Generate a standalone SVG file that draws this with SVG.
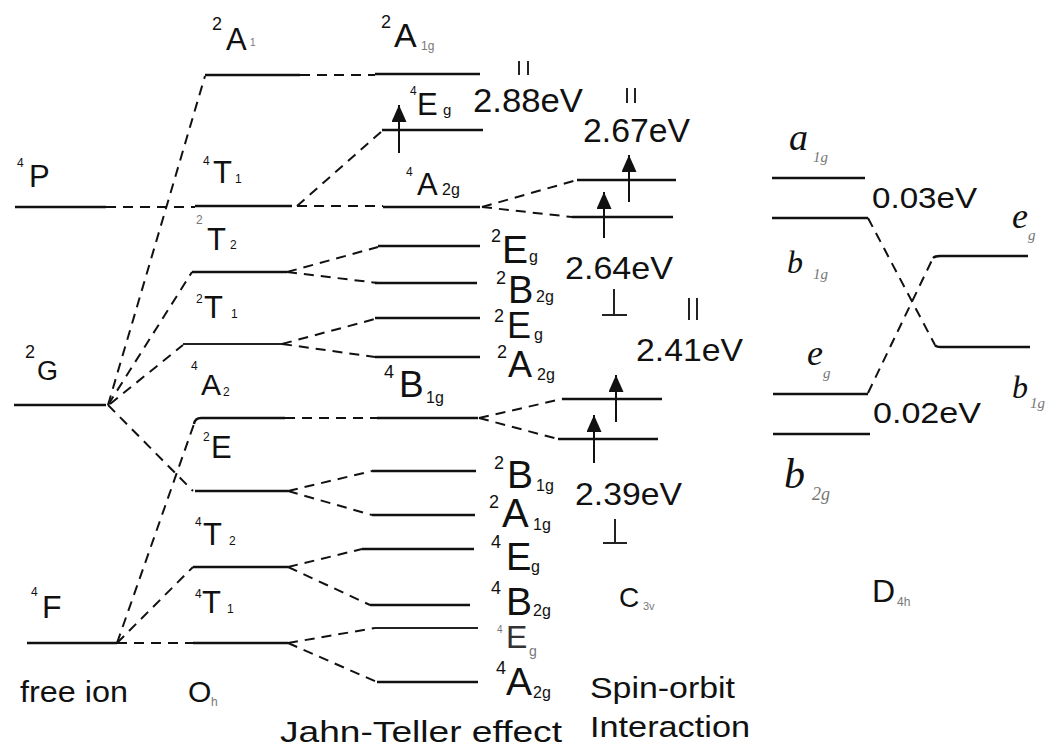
<svg xmlns="http://www.w3.org/2000/svg" width="1060" height="747" viewBox="0 0 1060 747">
<defs>
<style>
.lv{stroke:#111;stroke-width:2.4;fill:none}
.lt{stroke:#222;stroke-width:1.8;fill:none}
.dc{stroke:#111;stroke-width:2;fill:none;stroke-dasharray:10 7}
.ar{stroke:#111;stroke-width:2;fill:none}
.tk{stroke:#222;stroke-width:2;fill:none}
text{font-family:"Liberation Sans",Arial,sans-serif;fill:#111}
.sup{font-size:18px}
.ssm{font-size:12px}
.sub{font-size:16px}
.fa{fill:#777}
.it{font-family:"Liberation Serif","Times New Roman",serif;font-style:italic}
</style>
<marker id="ah" markerUnits="userSpaceOnUse" markerWidth="17" markerHeight="15" refX="17" refY="7.5" orient="auto">
<path d="M0,0 L17,7.5 L0,15 z" fill="#111"/>
</marker>
</defs>
<rect width="1060" height="747" fill="#fff"/>

<g id="connectors">
<path class="dc" d="M106 207 H195"/>
<path class="dc" d="M297 206 H383"/>
<path class="dc" d="M297 206 L382 131"/>
<path class="dc" d="M108 405 L205 76"/>
<path class="dc" d="M300 75 H375"/>
<path class="dc" d="M108 405 L192 272"/>
<path class="dc" d="M110 404 L183 345"/>
<path class="dc" d="M108 405 L193 491"/>
<path class="dc" d="M117 643 L194 424"/>
<path class="dc" d="M285 418 H377"/>
<path class="dc" d="M117 643 L193 567"/>
<path class="dc" d="M117 643 H193"/>
<path class="dc" d="M287 272 L378 247"/>
<path class="dc" d="M287 272 L378 283"/>
<path class="dc" d="M282 344 L375 319"/>
<path class="dc" d="M282 344 L375 357"/>
<path class="dc" d="M288 491 L372 471"/>
<path class="dc" d="M288 491 L372 515"/>
<path class="dc" d="M288 567 L362 549"/>
<path class="dc" d="M288 567 L370 605"/>
<path class="dc" d="M288 643 L375 628"/>
<path class="dc" d="M288 643 L377 682"/>
<path class="dc" d="M482 207 L577 180"/>
<path class="dc" d="M482 207 L572 217"/>
<path class="dc" d="M479 418 L562 399"/>
<path class="dc" d="M479 418 L558 439"/>
<path class="dc" d="M868 218 L935 345"/>
<path class="dc" d="M868 393 L933 258"/>
</g>

<g id="free-4P">
<line class="lv" x1="15" y1="207" x2="106" y2="207"/>
<text><tspan class="ssm" x="17" y="167">4</tspan><tspan x="29" y="187" font-size="31">P</tspan></text>
</g>
<g id="free-2G">
<line class="lv" x1="14" y1="405" x2="106" y2="405"/>
<text><tspan class="sup" x="25" y="358">2</tspan><tspan x="37" y="380" font-size="27">G</tspan></text>
</g>
<g id="free-4F">
<line class="lv" x1="27" y1="643" x2="117" y2="643"/>
<text><tspan class="ssm" x="31" y="596">4</tspan><tspan x="42" y="618" font-size="32">F</tspan></text>
</g>

<g id="oh-2A1">
<line class="lv" x1="205" y1="75" x2="300" y2="75"/>
<text><tspan class="sup" x="212" y="30">2</tspan><tspan x="226" y="50" font-size="31">A</tspan><tspan class="fa" x="250" y="46" font-size="10">1</tspan></text>
</g>
<g id="oh-4T1-P">
<line class="lv" x1="195" y1="206" x2="292" y2="206"/>
<text><tspan class="ssm" x="203" y="165">4</tspan><tspan x="213" y="183" font-size="31">T</tspan><tspan class="ssm" x="235" y="183">1</tspan></text>
</g>
<g id="oh-2T2">
<line class="lv" x1="192" y1="272" x2="287" y2="272"/>
<text><tspan class="ssm fa" x="196" y="224">2</tspan><tspan x="207" y="250" font-size="31">T</tspan><tspan class="ssm" x="230" y="249">2</tspan></text>
</g>
<g id="oh-2T1">
<line class="lt" x1="183" y1="344" x2="282" y2="344"/>
<text><tspan class="ssm" x="196" y="303">2</tspan><tspan x="204" y="318" font-size="31">T</tspan><tspan class="ssm" x="231" y="318">1</tspan></text>
</g>
<g id="oh-4A2">
<path class="lv" d="M194 424 Q195 418 201 418 H285"/>
<text><tspan class="ssm" x="191" y="370">4</tspan><tspan x="201" y="395" font-size="30">A</tspan><tspan class="ssm" x="223" y="396">2</tspan></text>
</g>
<g id="oh-2E">
<line class="lv" x1="195" y1="491" x2="288" y2="491"/>
<text><tspan class="ssm" x="203" y="441">2</tspan><tspan x="211" y="458" font-size="31">E</tspan></text>
</g>
<g id="oh-4T2">
<line class="lv" x1="193" y1="567" x2="288" y2="567"/>
<text><tspan class="ssm" x="195" y="526">4</tspan><tspan x="203" y="545" font-size="31">T</tspan><tspan class="ssm" x="229" y="545">2</tspan></text>
</g>
<g id="oh-4T1-F">
<line class="lv" x1="193" y1="643" x2="288" y2="643"/>
<text><tspan class="ssm" x="195" y="598">4</tspan><tspan x="202" y="613" font-size="31">T</tspan><tspan class="ssm" x="227" y="613">1</tspan></text>
</g>

<g id="jt-2A1g">
<line class="lv" x1="375" y1="74" x2="480" y2="74"/>
<text><tspan class="sup" x="381" y="28">2</tspan><tspan x="394" y="47" font-size="34">A</tspan><tspan class="fa" x="421" y="50" font-size="12">1g</tspan></text>
</g>
<g id="jt-4Eg-top">
<line class="lv" x1="382" y1="130" x2="483" y2="130"/>
<line class="ar" x1="399" y1="153" x2="399" y2="105" marker-end="url(#ah)"/>
<text><tspan class="ssm" x="410" y="95">4</tspan><tspan x="417" y="115" font-size="31">E</tspan><tspan x="443" y="115" font-size="15">g</tspan></text>
</g>
<g id="jt-4A2g-top">
<line class="lv" x1="383" y1="207" x2="480" y2="207"/>
<text><tspan class="ssm" x="406" y="176">4</tspan><tspan x="417" y="195" font-size="31">A</tspan><tspan x="442" y="195" font-size="16">2g</tspan></text>
</g>
<g id="jt-2Eg-a">
<line class="lv" x1="378" y1="246" x2="480" y2="246"/>
<text><tspan class="sup" x="491" y="242">2</tspan><tspan x="502" y="263" font-size="39">E</tspan><tspan class="sub" x="529" y="262">g</tspan></text>
</g>
<g id="jt-2B2g">
<line class="lv" x1="375" y1="283" x2="477" y2="283"/>
<text><tspan class="sup" x="496" y="284">2</tspan><tspan x="508" y="303" font-size="38">B</tspan><tspan class="sub" x="536" y="302">2g</tspan></text>
</g>
<g id="jt-2Eg-b">
<line class="lv" x1="375" y1="318" x2="480" y2="318"/>
<text><tspan class="sup" x="494" y="322">2</tspan><tspan x="507" y="338" font-size="36">E</tspan><tspan class="sub" x="534" y="340">g</tspan></text>
</g>
<g id="jt-2A2g">
<line class="lv" x1="375" y1="357" x2="480" y2="357"/>
<text><tspan class="sup" x="497" y="358">2</tspan><tspan x="508" y="377" font-size="36">A</tspan><tspan class="sub" x="537" y="380">2g</tspan></text>
</g>
<g id="jt-4B1g">
<line class="lv" x1="377" y1="418" x2="478" y2="418"/>
<text><tspan class="sup" x="384" y="378">4</tspan><tspan x="399" y="397" font-size="37">B</tspan><tspan class="sub" x="426" y="403">1g</tspan></text>
</g>
<g id="jt-2B1g">
<line class="lv" x1="372" y1="471" x2="476" y2="471"/>
<text><tspan class="sup" x="494" y="469">2</tspan><tspan x="507" y="488" font-size="39">B</tspan><tspan class="sub" x="536" y="491">1g</tspan></text>
</g>
<g id="jt-2A1g-b">
<line class="lv" x1="372" y1="515" x2="475" y2="515"/>
<text><tspan class="sup" x="489" y="508">2</tspan><tspan x="502" y="527" font-size="40">A</tspan><tspan class="sub" x="533" y="530">1g</tspan></text>
</g>
<g id="jt-4Eg-a">
<line class="lv" x1="362" y1="549" x2="474" y2="549"/>
<text><tspan class="sup" x="491" y="548">4</tspan><tspan x="506" y="570" font-size="38">E</tspan><tspan class="sub" x="531" y="572">g</tspan></text>
</g>
<g id="jt-4B2g">
<line class="lv" x1="370" y1="605" x2="470" y2="605"/>
<text><tspan class="sup" x="491" y="594">4</tspan><tspan x="506" y="615" font-size="39">B</tspan><tspan class="sub" x="533" y="616">2g</tspan></text>
</g>
<g id="jt-4Eg-b">
<line class="lt" x1="375" y1="628" x2="478" y2="628"/>
<text><tspan class="fa" x="497" y="633" font-size="10">4</tspan><tspan x="506" y="648" font-size="32" fill="#333">E</tspan><tspan class="fa" x="529" y="656" font-size="14">g</tspan></text>
</g>
<g id="jt-4A2g-b">
<line class="lv" x1="377" y1="682" x2="478" y2="682"/>
<text><tspan class="sup" x="496" y="674">4</tspan><tspan x="506" y="695" font-size="39">A</tspan><tspan class="sub" x="533" y="698">2g</tspan></text>
</g>

<g id="so-upper">
<line class="lv" x1="577" y1="180" x2="676" y2="180"/>
<line class="lv" x1="572" y1="217" x2="673" y2="217"/>
<line class="ar" x1="629" y1="202" x2="629" y2="155" marker-end="url(#ah)"/>
<line class="ar" x1="604" y1="238" x2="604" y2="192" marker-end="url(#ah)"/>
<text x="473" y="112" font-size="33" textLength="110" lengthAdjust="spacingAndGlyphs">2.88eV</text>
<text x="583" y="142" font-size="33" textLength="107" lengthAdjust="spacingAndGlyphs">2.67eV</text>
<text x="565" y="279" font-size="32" textLength="108" lengthAdjust="spacingAndGlyphs">2.64eV</text>
<path class="tk" d="M519 61 V75 M528 61 V75 M627 88 V103 M635 88 V103 M614 289 V315 M602 315 H627"/>
</g>
<g id="so-lower">
<line class="lv" x1="562" y1="399" x2="662" y2="399"/>
<line class="lv" x1="558" y1="439" x2="658" y2="439"/>
<line class="ar" x1="616" y1="422" x2="616" y2="375" marker-end="url(#ah)"/>
<line class="ar" x1="594" y1="463" x2="594" y2="415" marker-end="url(#ah)"/>
<text x="636" y="361" font-size="32" textLength="107" lengthAdjust="spacingAndGlyphs">2.41eV</text>
<text x="575" y="505" font-size="32" textLength="107" lengthAdjust="spacingAndGlyphs">2.39eV</text>
<path class="tk" d="M689 298 V320 M697 298 V320 M615 519 V543 M603 543 H627"/>
</g>

<g id="d4h">
<line class="lv" x1="772" y1="178" x2="865" y2="178"/>
<line class="lv" x1="772" y1="218" x2="868" y2="218"/>
<line class="lv" x1="773" y1="394" x2="868" y2="394"/>
<line class="lv" x1="773" y1="434" x2="870" y2="434"/>
<path class="lv" d="M933 258 Q935 256 940 256 H1028"/>
<path class="lv" d="M935 345 Q936 347 941 347 H1030"/>
<text class="it"><tspan x="789" y="150" font-size="38">a</tspan><tspan class="fa" x="813" y="162" font-size="15">1g</tspan></text>
<text class="it"><tspan x="787" y="273" font-size="32">b</tspan><tspan class="fa" x="813" y="279" font-size="15">1g</tspan></text>
<text class="it"><tspan x="807" y="365" font-size="36">e</tspan><tspan class="fa" x="823" y="378" font-size="15">g</tspan></text>
<text class="it"><tspan x="784" y="488" font-size="42">b</tspan><tspan class="fa" x="812" y="500" font-size="18">2g</tspan></text>
<text class="it"><tspan x="1012" y="228" font-size="36">e</tspan><tspan class="fa" x="1028" y="240" font-size="15">g</tspan></text>
<text class="it"><tspan x="1012" y="398" font-size="32">b</tspan><tspan class="fa" x="1030" y="408" font-size="15">1g</tspan></text>
<text x="872" y="208" font-size="29" textLength="105" lengthAdjust="spacingAndGlyphs">0.03eV</text>
<text x="873" y="423" font-size="29" textLength="108" lengthAdjust="spacingAndGlyphs">0.02eV</text>
</g>

<g id="captions">
<text x="20" y="702" font-size="30" textLength="108" lengthAdjust="spacingAndGlyphs">free ion</text>
<text><tspan x="188" y="702" font-size="30">O</tspan><tspan class="fa" x="211" y="706" font-size="12">h</tspan></text>
<text x="280" y="742" font-size="30" textLength="282" lengthAdjust="spacingAndGlyphs">Jahn-Teller effect</text>
<text x="590" y="698" font-size="30" textLength="145" lengthAdjust="spacingAndGlyphs">Spin-orbit</text>
<text x="590" y="737" font-size="30" textLength="160" lengthAdjust="spacingAndGlyphs">Interaction</text>
<text><tspan x="619" y="607" font-size="28">C</tspan><tspan class="fa" x="643" y="610" font-size="11">3v</tspan></text>
<text><tspan x="872" y="602" font-size="32">D</tspan><tspan class="fa" x="897" y="606" font-size="12">4h</tspan></text>
</g>
</svg>
